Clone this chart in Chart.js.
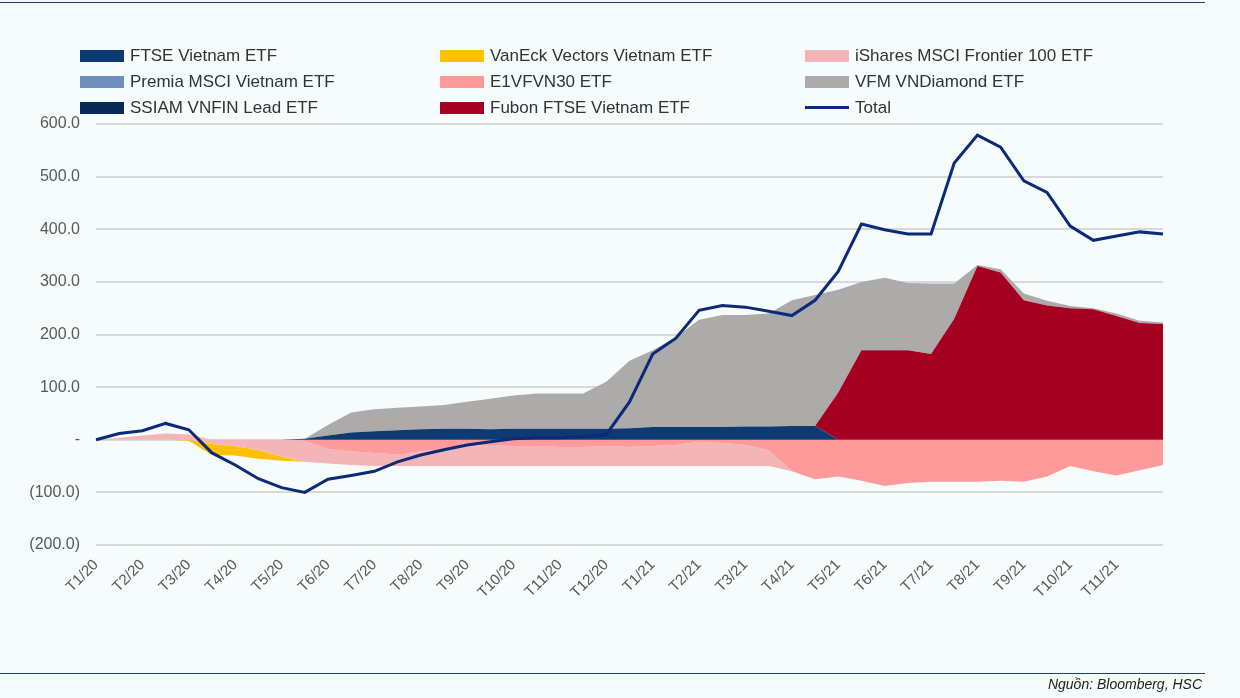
<!DOCTYPE html>
<html>
<head>
<meta charset="utf-8">
<script src="https://cdn.jsdelivr.net/npm/chart.js@4"></script>
<style>
  body { margin: 0; background: #f6fbfc; font-family: "Liberation Sans", Arial, sans-serif; }
  #wrap { position: relative; width: 1240px; height: 698px; }
  .rule { position: absolute; left: 0; width: 1205px; height: 1px; background: #1f3f7a; }
  #legend { position: absolute; left: 80px; top: 46px; width: 1100px; }
  .item { position: absolute; font-size: 17px; color: #333; white-space: nowrap; }
  .sw { display: inline-block; width: 44px; height: 12px; margin-right: 6px; vertical-align: -1px; }
  .ln { display: inline-block; width: 44px; height: 3px; margin-right: 6px; vertical-align: 4px; }
  #src { position: absolute; right: 38px; top: 676px; font-size: 14px; font-style: italic; color: #222; }
  canvas { position: absolute; left: 0; top: 0; }
</style>
</head>
<body>
<div id="wrap">
  <div class="rule" style="top:2px"></div>
  <div class="rule" style="top:673px"></div>
  <canvas id="chart" width="1240" height="698"></canvas>
  <div id="legend"></div>
  <div id="src">Nguồn: Bloomberg, HSC</div>
</div>
<script>
// half-month points, Jan 2020 .. Dec 2021
const months = ["T1/20","T2/20","T3/20","T4/20","T5/20","T6/20","T7/20","T8/20","T9/20","T10/20","T11/20","T12/20",
  "T1/21","T2/21","T3/21","T4/21","T5/21","T6/21","T7/21","T8/21","T9/21","T10/21","T11/21"];

const total = [0,12,17,31,19,-25,-48,-74,-91,-100,-75,-68,-60,-42,-29,-19,-10,-4,2,4,4,6,10,72,163,193,246,255,252,244,236,265,320,410,399,391,391,526,579,556,492,470,406,379,387,395,391];
const ftse = [0,0,0,0,0,0,0,0,0,2,8,14,16,18,20,21,21,20,21,21,21,21,21,22,24,24,24,24,25,25,26,26,0,0,0,0,0,0,0,0,0,0,0,0,0,0,0];
const fubon = [0,0,0,0,0,0,0,0,0,0,0,0,0,0,0,0,0,0,0,0,0,0,0,0,0,0,0,0,0,0,0,0,90,170,170,170,163,230,330,318,265,255,250,248,235,222,220];
// top of the positive stack (FTSE + Fubon + VFM)
const posTop = [0,0,0,0,0,0,0,0,0,0,28,52,58,61,63,66,72,78,84,88,88,88,110,150,170,195,228,237,237,240,265,275,285,300,308,298,297,297,332,324,278,264,254,250,240,226,223];
const isharesPos = [0,4,8,12,10,0,0,0,0,0,0,0,0,0,0,0,0,0,0,0,0,0,0,0,0,0,0,0,0,0,0,0,0,0,0,0,0,0,0,0,0,0,0,0,0,0,0];
const isharesNeg = [0,0,0,0,0,-8,-12,-20,-32,-40,-27,-26,-25,-22,-28,-32,-38,-40,-38,-38,-36,-36,-38,-36,-38,-40,-46,-44,-40,-30,0,0,0,0,0,0,0,0,0,0,0,0,0,0,0,0,0];
const e1vfvn30 = [0,0,0,0,0,0,0,0,0,-2,-18,-22,-25,-28,-22,-18,-12,-10,-12,-12,-14,-14,-12,-14,-12,-10,-4,-6,-10,-20,-60,-75,-70,-78,-88,-82,-80,-80,-80,-78,-80,-70,-50,-60,-68,-58,-48];
const vaneck = [0,0,0,0,-2,-21,-18,-16,-8,0,0,0,0,0,0,0,0,0,0,0,0,0,0,0,0,0,0,0,0,0,0,0,0,0,0,0,0,0,0,0,0,0,0,0,0,0,0];
const premia = new Array(total.length).fill(0);
const ssiam = new Array(total.length).fill(0);

const vfm = posTop.map((t, i) => Math.max(0, t - ftse[i] - fubon[i]));
const labels = total.map((_, i) => i % 2 === 0 && i / 2 < months.length ? months[i / 2] : "");

// nudge zeros so Chart.js keeps positives and negatives in separate stacks
const pos = a => a.map(v => v === 0 ? 1e-6 : v);
const neg = a => a.map(v => v === 0 ? -1e-6 : v);

function area(label, data, color, fill) {
  return { label, data, backgroundColor: color, borderColor: color, borderWidth: 0, fill, pointRadius: 0, order: 1, stack: "a" };
}

const datasets = [
  area("iShares MSCI Frontier 100 ETF +", pos(isharesPos), "#f4b5b8", "origin"),
  area("FTSE Vietnam ETF", pos(ftse), "#0e3a74", "-1"),
  area("Premia MSCI Vietnam ETF", pos(premia), "#6f8fbd", "-1"),
  area("SSIAM VNFIN Lead ETF", pos(ssiam), "#092a56", "-1"),
  area("Fubon FTSE Vietnam ETF", pos(fubon), "#a50021", "-1"),
  area("VFM VNDiamond ETF", pos(vfm), "#adabaa", "-1"),
  area("E1VFVN30 ETF", neg(e1vfvn30), "#ff9a9a", "origin"),
  area("iShares MSCI Frontier 100 ETF", neg(isharesNeg), "#f4b5b8", "-1"),
  area("VanEck Vectors Vietnam ETF", neg(vaneck), "#ffc000", "-1"),
  { label: "Total", data: total, borderColor: "#0b2a78", borderWidth: 3, fill: false, pointRadius: 0, order: 0, stack: "t" }
];

new Chart(document.getElementById("chart"), {
  type: "line",
  data: { labels, datasets },
  options: {
    responsive: false,
    animation: false,
    layout: { padding: { left: 10, right: 77, top: 124, bottom: 93 } },
    plugins: { legend: { display: false }, tooltip: { enabled: false } },
    scales: {
      x: {
        grid: { display: false },
        border: { display: false },
        afterFit: s => { s.height = 60; },
        ticks: { autoSkip: false, minRotation: 45, maxRotation: 45, color: "#595959", font: { size: 15, family: "Liberation Sans" } }
      },
      y: {
        stacked: true,
        min: -200, max: 600,
        afterFit: s => { s.width = 86; },
        border: { display: false },
        grid: { color: "#d9d9d9", lineWidth: 2, drawTicks: false },
        ticks: {
          stepSize: 100, padding: 16, color: "#595959", font: { size: 16, family: "Liberation Sans" },
          callback: v => v === 0 ? "-" : v < 0 ? "(" + Math.abs(v).toFixed(1) + ")" : v.toFixed(1)
        }
      }
    }
  }
});

// legend laid out as in the report
const legendItems = [
  ["FTSE Vietnam ETF", "#0e3a74"], ["VanEck Vectors Vietnam ETF", "#ffc000"], ["iShares MSCI Frontier 100 ETF", "#f4b5b8"],
  ["Premia MSCI Vietnam ETF", "#6f8fbd"], ["E1VFVN30 ETF", "#ff9a9a"], ["VFM VNDiamond ETF", "#adabaa"],
  ["SSIAM VNFIN Lead ETF", "#092a56"], ["Fubon FTSE Vietnam ETF", "#a50021"], ["Total", "#0b2a78"]
];
const cols = [0, 360, 725];
const legend = document.getElementById("legend");
legendItems.forEach(([name, color], i) => {
  const d = document.createElement("div");
  d.className = "item";
  d.style.left = cols[i % 3] + "px";
  d.style.top = Math.floor(i / 3) * 26 + "px";
  const cls = name === "Total" ? "ln" : "sw";
  d.innerHTML = `<span class="${cls}" style="background:${color}"></span>${name}`;
  legend.appendChild(d);
});
</script>
</body>
</html>
